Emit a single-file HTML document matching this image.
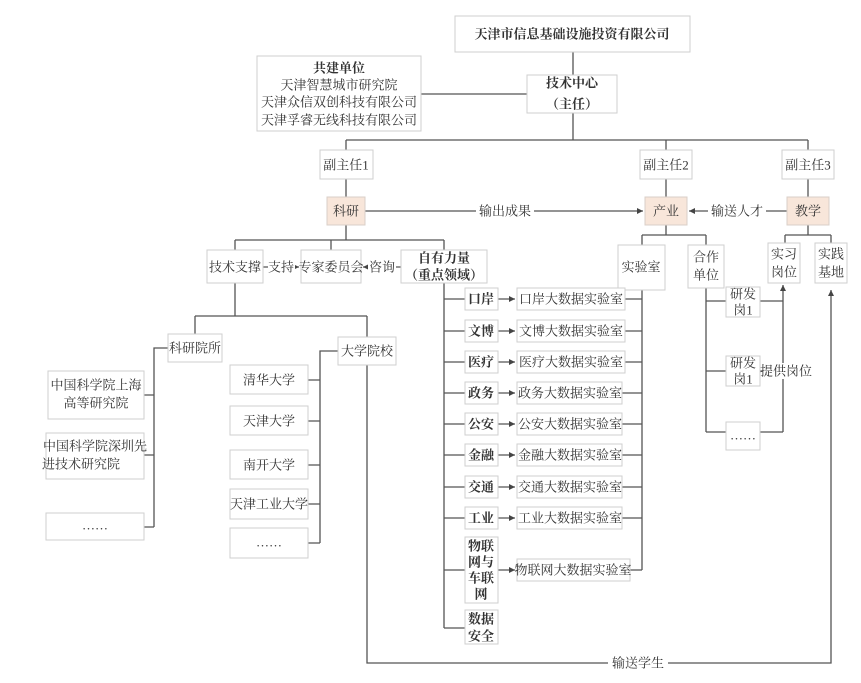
<!DOCTYPE html>
<html><head><meta charset="utf-8"><style>
html,body{margin:0;padding:0;background:#fff;}
svg{display:block;}
text{font-family:"Liberation Serif","Noto Serif CJK SC",serif;fill:#333;font-size:13px;text-anchor:middle;dominant-baseline:central;}
.b{fill:#fff;stroke:#cfcfcf;stroke-width:1;}
.o{fill:#f8e6da;stroke:#d9cfc8;stroke-width:1;}
.l{stroke:#555;stroke-width:1.3;fill:none;}
</style></head><body>
<svg width="861" height="683" viewBox="0 0 861 683" xmlns="http://www.w3.org/2000/svg">
<defs><marker id="a" markerWidth="8" markerHeight="8" refX="6" refY="3" orient="auto" markerUnits="userSpaceOnUse"><path d="M0,0 L6,3 L0,6 z" fill="#444"/></marker></defs>
<path class="l" d="M573,52 V140 M346,140 H808 M346,140 V150 M666,140 V150 M808,140 V150"/>
<path class="l" d="M421,94 H527"/>
<path class="l" d="M346,179 V197 M666,179 V197 M808,179 V197"/>
<path class="l" d="M365,211 H643" marker-end="url(#a)"/>
<path class="l" d="M787,211 H689" marker-end="url(#a)"/>
<path class="l" d="M346,225 V240 M235,240 H444 M235,240 V250 M331,240 V250 M444,240 V250"/>
<path class="l" d="M263,267 H299" marker-end="url(#a)"/>
<path class="l" d="M401,267 H363" marker-end="url(#a)"/>
<path class="l" d="M666,225 V235 M642,235 H706 M642,235 V245 M706,235 V245"/>
<path class="l" d="M808,225 V235 M785,235 H831 M785,235 V243 M831,235 V243"/>
<path class="l" d="M235,283 V316 M195,316 H367 M195,316 V334 M367,316 V337"/>
<path class="l" d="M168,348 H154 V527 M144,395 H154 M144,455 H154 M144,527 H154"/>
<path class="l" d="M338,351 H320 V543 M308,380 H320 M308,421 H320 M308,465 H320 M308,504 H320 M308,543 H320"/>
<path class="l" d="M367,365 V663 H831 V290" marker-end="url(#a)"/>
<path class="l" d="M444,283 V628 M444,299 H465 M444,331 H465 M444,362 H465 M444,393 H465 M444,424 H465 M444,455 H465 M444,487 H465 M444,518 H465 M444,570 H465 M444,628 H465"/>
<g class="l" marker-end="url(#a)">
<path d="M498,299 H515"/><path d="M498,331 H515"/><path d="M498,362 H515"/><path d="M498,393 H515"/><path d="M498,424 H515"/><path d="M498,455 H515"/><path d="M498,487 H515"/><path d="M498,518 H515"/><path d="M498,570 H515"/>
</g>
<path class="l" d="M642,290 V570 M625,299 H642 M625,331 H642 M625,362 H642 M622,393 H642 M622,424 H642 M622,455 H642 M622,487 H642 M622,518 H642 M630,570 H642"/>
<path class="l" d="M706,288 V432 M706,301 H726 M706,371 H726 M706,432 H726 M760,301 H783 M760,371 H783 M760,432 H783"/>
<path class="l" d="M783,432 V285" marker-end="url(#a)"/>
<rect x="476" y="203" width="58" height="16" fill="#fff"/><text x="505" y="211">输出成果</text>
<rect x="708" y="203" width="58" height="16" fill="#fff"/><text x="737" y="211">输送人才</text>
<rect x="268" y="259" width="27" height="16" fill="#fff"/><text x="281" y="267">支持</text>
<rect x="368" y="259" width="28" height="16" fill="#fff"/><text x="382" y="267">咨询</text>
<rect x="763" y="363" width="46" height="16" fill="#fff"/><text x="786" y="371" font-size="12">提供岗位</text>
<rect x="608" y="655" width="60" height="16" fill="#fff"/><text x="638" y="663">输送学生</text>
<rect class="b" x="455" y="16" width="235" height="36"/><text x="572" y="34" font-size="17" font-weight="bold">天津市信息基础设施投资有限公司</text>
<rect class="b" x="257" y="56" width="164" height="75"/>
<text x="339" y="68" font-weight="bold">共建单位</text><text x="339" y="85">天津智慧城市研究院</text><text x="339" y="102">天津众信双创科技有限公司</text><text x="339" y="120">天津孚睿无线科技有限公司</text>
<rect class="b" x="527" y="75" width="90" height="38"/><text x="572" y="83" font-size="17" font-weight="bold">技术中心</text><text x="572" y="104" font-size="17" font-weight="bold">（主任）</text>
<rect class="b" x="320" y="150" width="53" height="29"/><text x="346" y="165">副主任1</text>
<rect class="b" x="640" y="150" width="52" height="29"/><text x="666" y="165">副主任2</text>
<rect class="b" x="782" y="150" width="52" height="29"/><text x="808" y="165">副主任3</text>
<rect class="o" x="327" y="197" width="38" height="28"/><text x="346" y="211">科研</text>
<rect class="o" x="645" y="197" width="42" height="28"/><text x="666" y="211">产业</text>
<rect class="o" x="787" y="197" width="42" height="28"/><text x="808" y="211">教学</text>
<rect class="b" x="207" y="250" width="56" height="33"/><text x="235" y="267">技术支撑</text>
<rect class="b" x="301" y="250" width="60" height="33"/><text x="331" y="267">专家委员会</text>
<rect class="b" x="401" y="250" width="86" height="33"/><text x="444" y="258" font-weight="bold">自有力量</text><text x="444" y="275" font-weight="bold">（重点领域）</text>
<rect class="b" x="618" y="245" width="47" height="45"/><text x="641" y="267">实验室</text>
<rect class="b" x="688" y="245" width="36" height="43"/><text x="706" y="257">合作</text><text x="706" y="275">单位</text>
<rect class="b" x="768" y="243" width="32" height="40"/><text x="784" y="254">实习</text><text x="784" y="272">岗位</text>
<rect class="b" x="815" y="243" width="32" height="40"/><text x="831" y="254">实践</text><text x="831" y="272">基地</text>
<rect class="b" x="168" y="334" width="54" height="28"/><text x="195" y="348">科研院所</text>
<rect class="b" x="338" y="337" width="58" height="28"/><text x="367" y="351">大学院校</text>
<rect class="b" x="48" y="371" width="96" height="48"/><text x="96" y="385">中国科学院上海</text><text x="96" y="403">高等研究院</text>
<rect class="b" x="46" y="433" width="98" height="46"/><text x="95" y="446">中国科学院深圳先</text><text x="81" y="464">进技术研究院</text>
<rect class="b" x="46" y="513" width="98" height="27"/><text x="95" y="525">……</text>
<rect class="b" x="230" y="365" width="78" height="29"/><text x="269" y="380">清华大学</text>
<rect class="b" x="230" y="406" width="78" height="29"/><text x="269" y="421">天津大学</text>
<rect class="b" x="230" y="450" width="78" height="29"/><text x="269" y="465">南开大学</text>
<rect class="b" x="230" y="489" width="78" height="30"/><text x="269" y="504">天津工业大学</text>
<rect class="b" x="230" y="528" width="78" height="30"/><text x="269" y="542">……</text>
<rect class="b" x="465" y="288" width="33" height="22"/><text x="481" y="299" font-weight="bold">口岸</text>
<rect class="b" x="465" y="320" width="33" height="22"/><text x="481" y="331" font-weight="bold">文博</text>
<rect class="b" x="465" y="351" width="33" height="22"/><text x="481" y="362" font-weight="bold">医疗</text>
<rect class="b" x="465" y="382" width="33" height="22"/><text x="481" y="393" font-weight="bold">政务</text>
<rect class="b" x="465" y="413" width="33" height="22"/><text x="481" y="424" font-weight="bold">公安</text>
<rect class="b" x="465" y="444" width="33" height="22"/><text x="481" y="455" font-weight="bold">金融</text>
<rect class="b" x="465" y="476" width="33" height="22"/><text x="481" y="487" font-weight="bold">交通</text>
<rect class="b" x="465" y="507" width="33" height="22"/><text x="481" y="518" font-weight="bold">工业</text>
<rect class="b" x="465" y="537" width="33" height="66"/><text x="481" y="546" font-weight="bold">物联</text><text x="481" y="562" font-weight="bold">网与</text><text x="481" y="578" font-weight="bold">车联</text><text x="481" y="594" font-weight="bold">网</text>
<rect class="b" x="465" y="610" width="33" height="34"/><text x="481" y="619" font-weight="bold">数据</text><text x="481" y="636" font-weight="bold">安全</text>
<rect class="b" x="517" y="288" width="108" height="22"/><text x="571" y="299">口岸大数据实验室</text>
<rect class="b" x="517" y="320" width="108" height="22"/><text x="571" y="331">文博大数据实验室</text>
<rect class="b" x="517" y="351" width="108" height="22"/><text x="571" y="362">医疗大数据实验室</text>
<rect class="b" x="517" y="382" width="105" height="22"/><text x="570" y="393">政务大数据实验室</text>
<rect class="b" x="517" y="413" width="105" height="22"/><text x="570" y="424">公安大数据实验室</text>
<rect class="b" x="517" y="444" width="105" height="22"/><text x="570" y="455">金融大数据实验室</text>
<rect class="b" x="517" y="476" width="105" height="22"/><text x="570" y="487">交通大数据实验室</text>
<rect class="b" x="517" y="507" width="105" height="22"/><text x="570" y="518">工业大数据实验室</text>
<rect class="b" x="517" y="559" width="113" height="22"/><text x="573" y="570">物联网大数据实验室</text>
<rect class="b" x="726" y="287" width="34" height="30"/><text x="743" y="294">研发</text><text x="743" y="310">岗1</text>
<rect class="b" x="726" y="356" width="34" height="30"/><text x="743" y="363">研发</text><text x="743" y="379">岗1</text>
<rect class="b" x="726" y="422" width="34" height="28"/><text x="743" y="435">……</text>
</svg>
</body></html>
